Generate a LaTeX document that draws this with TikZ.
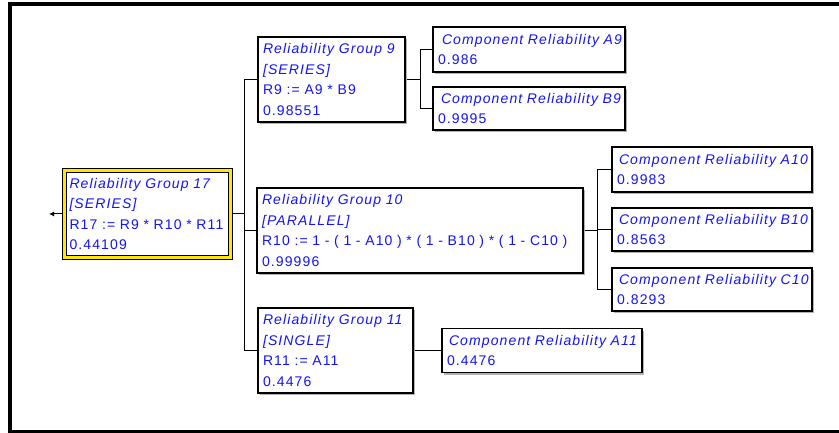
\documentclass[tikz,border=0pt]{standalone}
\usepackage{fontspec}
\setmainfont[LetterSpace=8]{Liberation Sans}
\usetikzlibrary{shadows,arrows.meta,backgrounds}
\definecolor{txtblue}{RGB}{20,20,245}

\tikzset{
  box/.style={draw=black, line width=1.3pt, fill=white, text=txtblue,
    align=left, inner xsep=5pt, inner ysep=0pt,
    font=\fontsize{14}{20.5}\selectfont,
    drop shadow={shadow xshift=2pt, shadow yshift=-2pt, fill=black!30, opacity=1}},
  rootbox/.style={box, line width=1pt, double=yellow!90!orange, double distance=2.6pt},
  wire/.style={draw=black, line width=1pt},
  frame/.style={draw=black, line cap=rect}
}
\newcommand{\ctitle}[2][2pt]{\mbox{\hspace*{#1}\textit{#2}}}

\begin{document}
\begin{tikzpicture}[x=1pt, y=-1pt]
\useasboundingbox (0,0) rectangle (839,433);

% outer window frame
\draw[frame, line width=4pt] (10,433) -- (10,4) -- (842,4);
\draw[frame, line width=3pt] (10,431.5) -- (842,431.5);

% group nodes
\node[rootbox, text width=156pt, minimum height=87pt] (G17) at (147.5,214)
  {\textit{Reliability Group 17}\\\textit{[SERIES]}\\\mbox{R17 := R9 * R10 * R11}\\0.44109};
\node[box, text width=137pt, minimum height=85pt] (G9) at (331.5,79.5)
  {\textit{Reliability Group 9}\\\textit{[SERIES]}\\R9 := A9 * B9\\0.98551};
\node[box, text width=316pt, minimum height=85pt] (G10) at (420,230.5)
  {\textit{Reliability Group 10}\\\textit{[PARALLEL]}\\\mbox{R10 := 1 - ( 1 - A10 ) * ( 1 - B10 ) * ( 1 - C10 )}\\0.99996};
\node[box, text width=145pt, minimum height=85pt] (G11) at (335.5,350.5)
  {\textit{Reliability Group 11}\\\textit{[SINGLE]}\\R11 := A11\\0.4476};

% component nodes
\node[box, text width=182pt, minimum height=45pt] (A9) at (529,49.5)
  {\ctitle[4pt]{Component Reliability A9}\\0.986};
\node[box, text width=182pt, minimum height=43pt] (B9) at (529,108.5)
  {\ctitle[3pt]{Component Reliability B9}\\0.9995};
\node[box, text width=190pt, minimum height=45pt] (A10) at (712,169.5)
  {\ctitle{Component Reliability A10}\\0.9983};
\node[box, text width=190pt, minimum height=43pt] (B10) at (712,229.5)
  {\ctitle{Component Reliability B10}\\0.8563};
\node[box, text width=190pt, minimum height=43pt] (C10) at (712,289.5)
  {\ctitle{Component Reliability C10}\\0.8293};
\node[box, text width=190pt, minimum height=44pt] (A11) at (542,350.5)
  {\ctitle{Component Reliability A11}\\0.4476};

% connectors
\begin{scope}[on background layer]
  \coordinate (out) at (49,214);
  \coordinate (t17) at (244,214);
  \coordinate (t9) at (420,79.5);
  \coordinate (t10) at (597,230.5);
  \draw[wire, -{Latex[length=5pt,width=5pt]}] (G17.west) -- (out);
  \draw[wire] (G17.east) -- (t17);
  \draw[wire] (t17) |- (G9.west);
  \draw[wire] (t17) |- (G10.west);
  \draw[wire] (t17) |- (G11.west);
  \draw[wire] (G9.east) -- (t9);
  \draw[wire] (t9) |- (A9.west);
  \draw[wire] (t9) |- (B9.west);
  \draw[wire] (G10.east) -- (t10);
  \draw[wire] (t10) |- (A10.west);
  \draw[wire] (t10) |- (B10.west);
  \draw[wire] (t10) |- (C10.west);
  \draw[wire] (G11.east) -- (A11.west);
\end{scope}
\end{tikzpicture}
\end{document}
